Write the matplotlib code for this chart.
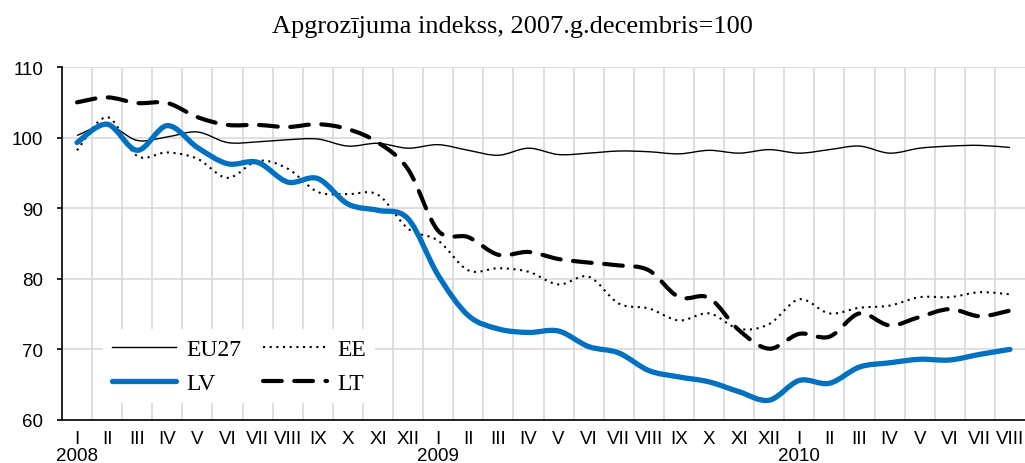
import numpy as np
import matplotlib
matplotlib.use('Agg')
import matplotlib.pyplot as plt
from matplotlib.path import Path
from matplotlib.patches import PathPatch
from matplotlib.lines import Line2D

# Dati
menesi = ['I', 'II', 'III', 'IV', 'V', 'VI', 'VII', 'VIII', 'IX', 'X', 'XI', 'XII'] * 2 + \
         ['I', 'II', 'III', 'IV', 'V', 'VI', 'VII', 'VIII']
gadi = {0: '2008', 12: '2009', 24: '2010'}

eu27 = [100.3, 101.8, 99.6, 100.1, 100.8, 99.3, 99.4, 99.7, 99.8, 98.8, 99.2, 98.5,
        99.0, 98.2, 97.5, 98.5, 97.6, 97.8, 98.1, 98.0, 97.7, 98.2, 97.8, 98.3,
        97.8, 98.3, 98.8, 97.8, 98.5, 98.8, 98.9, 98.6]
ee = [98.2, 102.9, 97.4, 97.9, 97.0, 94.3, 96.7, 95.6, 92.3, 92.0, 91.9, 87.1,
      85.4, 81.2, 81.5, 81.0, 79.2, 80.3, 76.5, 75.8, 74.1, 75.1, 72.9, 73.6,
      77.1, 75.1, 75.9, 76.2, 77.4, 77.4, 78.1, 77.8]
lv = [99.3, 101.9, 98.2, 101.7, 98.6, 96.3, 96.5, 93.7, 94.2, 90.6, 89.7, 88.5,
      80.5, 74.8, 72.9, 72.4, 72.6, 70.4, 69.5, 67.0, 66.1, 65.4, 64.0, 62.8,
      65.6, 65.2, 67.5, 68.1, 68.6, 68.5, 69.3, 70.0]
lt = [105.0, 105.7, 104.9, 104.9, 102.9, 101.8, 101.8, 101.5, 101.9, 101.2, 99.3, 95.5,
      86.8, 85.9, 83.4, 83.8, 82.8, 82.3, 81.9, 81.2, 77.4, 77.3, 72.7, 70.1,
      72.2, 71.8, 75.1, 73.4, 74.6, 75.7, 74.7, 75.5]

x = np.arange(len(menesi))


def smooth_path(xs, ys):
    # gluda līkne (kā Excel "smoothed line") ar Bezier segmentiem
    p = np.column_stack([xs, ys]).astype(float)
    n = len(p)
    verts = [p[0]]
    codes = [Path.MOVETO]
    for i in range(n - 1):
        p0 = p[max(i - 1, 0)]
        p1 = p[i]
        p2 = p[i + 1]
        p3 = p[min(i + 2, n - 1)]
        c1 = p1 + (p2 - p0) / 6
        c2 = p2 - (p3 - p1) / 6
        verts += [c1, c2, p2]
        codes += [Path.CURVE4] * 3
    return Path(verts, codes)


fig = plt.figure(figsize=(10.25, 4.64), dpi=100)
ax = fig.add_axes([0.0605, 0.0927, 0.9395, 0.7607])

stili = [
    (eu27, dict(color='black', lw=1.0, linestyle='-')),
    (ee, dict(color='black', lw=1.5, linestyle=(0, (1, 2.2)))),
    (lt, dict(color='black', lw=3.0, linestyle=(0, (4.5, 3)), capstyle='round')),
    (lv, dict(color='#0070c0', lw=3.8, linestyle='-', capstyle='round')),
]
for ys, st in stili:
    patch = PathPatch(smooth_path(x, ys), fill=False, edgecolor=st['color'],
                      linewidth=st['lw'], linestyle=st['linestyle'],
                      capstyle=st.get('capstyle', 'butt'), joinstyle='round', zorder=3)
    ax.add_patch(patch)

ax.set_xlim(-0.5, len(menesi) - 0.5)
ax.set_ylim(60, 110)
ax.set_yticks([60, 70, 80, 90, 100, 110])
ax.set_xticks(x)
ax.set_xticklabels(menesi)
ax.set_xticks(np.arange(0.5, len(menesi) - 0.5), minor=True)

ax.grid(True, which='minor', axis='x', color='#d9d9d9', lw=1.2)
ax.grid(True, which='major', axis='y', color='#d9d9d9', lw=1.2)
ax.set_axisbelow(True)

for s in ['top', 'right']:
    ax.spines[s].set_visible(False)
for s in ['left', 'bottom']:
    ax.spines[s].set_linewidth(1.2)

ax.tick_params(axis='y', direction='out', length=3.6, width=1.2, labelsize=13.5, pad=10)
ax.tick_params(axis='x', which='both', length=0, labelsize=13.5, pad=7)
for lbl in ax.get_xticklabels() + ax.get_yticklabels():
    lbl.set_fontfamily('Liberation Sans')

for i, g in gadi.items():
    ax.annotate(g, xy=(i, 0), xycoords=('data', 'axes fraction'), xytext=(0, -19.5),
                textcoords='offset points', ha='center', va='top',
                fontsize=13.5, family='Liberation Sans')

fig.text(0.5, 1 - 33 / 464, 'Apgrozījuma indekss, 2007.g.decembris=100',
         ha='center', va='baseline', fontsize=19, family='Liberation Serif')

rokturi = [
    Line2D([], [], color='black', lw=1.0),
    Line2D([], [], color='#0070c0', lw=3.8, solid_capstyle='round'),
    Line2D([], [], color='black', lw=1.5, linestyle=(0, (1, 2.2))),
    Line2D([], [], color='black', lw=3.0, linestyle=(0, (4.5, 3)), dash_capstyle='round'),
]
leg = ax.legend(rokturi, ['EU27', 'LV', 'EE', 'LT'], ncol=2, loc='lower left',
                bbox_to_anchor=(0.03, 0.014), frameon=True, fancybox=False,
                edgecolor='none', facecolor='white', framealpha=1,
                prop={'family': 'Liberation Serif', 'size': 17},
                handlelength=2.7, handletextpad=0.45, columnspacing=0.9,
                labelspacing=0.52, borderpad=0.4)
leg.set_zorder(5)

fig.savefig('out.png', dpi=100)
